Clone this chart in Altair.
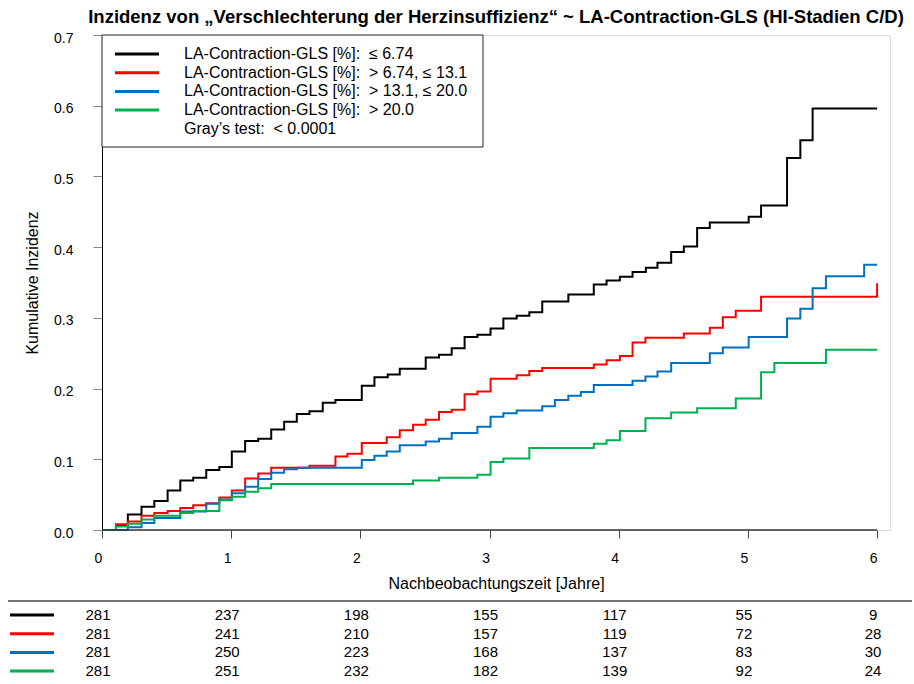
import altair as alt
import pandas as pd

FONT = "Liberation Sans"

title_text = "Inzidenz von \u201eVerschlechterung der Herzinsuffizienz\u201c ~ LA-Contraction-GLS (HI-Stadien C/D)"
group_labels = [
    "LA-Contraction-GLS [%]:\u00a0 \u2264 6.74",
    "LA-Contraction-GLS [%]:\u00a0 > 6.74, \u2264 13.1",
    "LA-Contraction-GLS [%]:\u00a0 > 13.1, \u2264 20.0",
    "LA-Contraction-GLS [%]:\u00a0 > 20.0",
]
test_label = "Gray\u2019s test:\u00a0 < 0.0001"
colors = ["#000000", "#FF0000", "#0070C0", "#00B050"]

black_t = [0, 0.108, 0.2, 0.306, 0.405, 0.508, 0.606, 0.706, 0.807, 0.908,
           1.005, 1.108, 1.209, 1.31, 1.41, 1.508, 1.606, 1.709, 1.807,
           2.011, 2.109, 2.212, 2.305, 2.506, 2.609, 2.707, 2.807, 2.906,
           3.008, 3.107, 3.21, 3.308, 3.408, 3.61, 3.807, 3.906,
           4.009, 4.107, 4.21, 4.30, 4.406, 4.504, 4.607, 4.705,
           5.006, 5.102, 5.303, 5.406, 5.501, 6.0]
black_v = [0, 0.006, 0.022, 0.033, 0.041, 0.056, 0.070, 0.074, 0.085, 0.089,
           0.111, 0.126, 0.129, 0.142, 0.153, 0.164, 0.168, 0.180, 0.184,
           0.204, 0.216, 0.220, 0.228, 0.244, 0.248, 0.257, 0.273, 0.276,
           0.285, 0.299, 0.303, 0.308, 0.323, 0.333, 0.347, 0.353,
           0.358, 0.365, 0.371, 0.378, 0.393, 0.401, 0.427, 0.435,
           0.443, 0.459, 0.526, 0.551, 0.596, 0.596]

red_t = [0, 0.108, 0.2, 0.306, 0.405, 0.508, 0.606, 0.706, 0.807, 0.908,
         1.005, 1.108, 1.209, 1.31, 1.606, 1.807, 1.90,
         2.011, 2.204, 2.305, 2.408, 2.506, 2.609, 2.707, 2.807, 2.906,
         3.008, 3.21, 3.308, 3.408, 3.807, 3.906,
         4.009, 4.107, 4.207, 4.504, 4.705, 4.806, 4.906,
         5.102, 6.0]
red_v = [0, 0.008, 0.012, 0.020, 0.024, 0.027, 0.031, 0.035, 0.038, 0.046,
         0.056, 0.073, 0.080, 0.088, 0.091, 0.104, 0.108,
         0.123, 0.131, 0.141, 0.149, 0.156, 0.167, 0.170, 0.192, 0.196,
         0.214, 0.219, 0.225, 0.229, 0.234, 0.240,
         0.246, 0.265, 0.272, 0.278, 0.286, 0.301, 0.310,
         0.330, 0.349]

blue_t = [0, 0.2, 0.306, 0.405, 0.606, 0.807, 0.908,
          1.005, 1.108, 1.209, 1.31, 1.41, 1.508,
          2.011, 2.109, 2.204, 2.305, 2.506, 2.609, 2.707, 2.906,
          3.008, 3.107, 3.21, 3.408, 3.506, 3.61, 3.707, 3.807,
          4.107, 4.207, 4.30, 4.406, 4.705, 4.806,
          5.006, 5.303, 5.406, 5.501, 5.604, 5.90, 6.0]
blue_v = [0, 0.004, 0.010, 0.017, 0.026, 0.037, 0.043,
          0.052, 0.061, 0.072, 0.081, 0.086, 0.088,
          0.099, 0.105, 0.111, 0.120, 0.125, 0.129, 0.137, 0.146,
          0.160, 0.165, 0.169, 0.175, 0.184, 0.190, 0.195, 0.205,
          0.211, 0.217, 0.224, 0.236, 0.250, 0.258,
          0.273, 0.299, 0.313, 0.342, 0.359, 0.375, 0.375]

green_t = [0, 0.108, 0.2, 0.306, 0.405, 0.606, 0.706, 0.908,
           1.005, 1.108, 1.209, 1.31,
           2.408, 2.609, 2.906,
           3.008, 3.107, 3.308, 3.807, 3.906,
           4.009, 4.207, 4.406, 4.607, 4.906,
           5.102, 5.205, 5.604, 6.0]
green_v = [0, 0.005, 0.009, 0.015, 0.020, 0.024, 0.027, 0.042,
           0.047, 0.054, 0.059, 0.065,
           0.070, 0.074, 0.078,
           0.096, 0.101, 0.116, 0.122, 0.127,
           0.140, 0.158, 0.166, 0.172, 0.186,
           0.223, 0.236, 0.255, 0.255]

risk_years = [0, 1, 2, 3, 4, 5, 6]
risk_black = [281, 237, 198, 155, 117, 55, 9]
risk_red = [281, 241, 210, 157, 119, 72, 28]
risk_blue = [281, 250, 223, 168, 137, 83, 30]
risk_green = [281, 251, 232, 182, 139, 92, 24]

x_ticks = [0, 1, 2, 3, 4, 5, 6]
y_ticks = [0.0, 0.1, 0.2, 0.3, 0.4, 0.5, 0.6, 0.7]

# ---------------- layout -----------------
W, H = 788, 495
PAD_L, PAD_T = 102, 35

x_scale = alt.Scale(domain=[0, 6.1], nice=False, zero=False)
y_scale = alt.Scale(domain=[0, 0.7], nice=False, zero=False)

x_axis = alt.Axis(values=x_ticks, format="d", title="Nachbeobachtungszeit [Jahre]",
                  labelFont=FONT, titleFont=FONT, labelFontSize=14, titleFontSize=16,
                  titleFontWeight="normal", labelColor="black", titleColor="black",
                  tickColor="#444", tickSize=8, tickWidth=1, domain=False, grid=False,
                  labelPadding=13, labelOffset=-4, labelFlush=False,
                  titleX=W / 2, titleY=53, titleBaseline="middle", titleAlign="center")
y_axis = alt.Axis(values=y_ticks, format=".1f", title="Kumulative Inzidenz",
                  labelFont=FONT, titleFont=FONT, labelFontSize=14, titleFontSize=16,
                  titleFontWeight="normal", labelColor="black", titleColor="black",
                  tickColor="#888", tickSize=9, tickWidth=1, domainColor="black",
                  domainWidth=1, grid=False, labelPadding=20, labelOffset=3,
                  labelFlush=False, titleX=-70, titleY=H / 2, titleAngle=-90,
                  titleBaseline="middle", titleAlign="center")

X = lambda f: alt.X(f, scale=x_scale, axis=x_axis)
Y = lambda f: alt.Y(f, scale=y_scale, axis=y_axis)

one = pd.DataFrame({"k": [0]})
layers = []

# legend box
layers.append(alt.Chart(one).mark_rect(fill="white", stroke="#222", strokeWidth=1).encode(
    x=alt.value(0), x2=alt.value(381), y=alt.value(0), y2=alt.value(112)))

series = [(black_t, black_v), (red_t, red_v), (blue_t, blue_v), (green_t, green_v)]
for (ts, vs), col, lab in zip(series, colors, group_labels):
    df = pd.DataFrame({"time": ts, "cif": vs, "group": lab})
    layers.append(alt.Chart(df).mark_line(interpolate="step-after", strokeWidth=2,
                                          color=col).encode(x=X("time:Q"), y=Y("cif:Q")))

# bottom axis line (0..6)
layers.append(alt.Chart(pd.DataFrame({"a": [0], "b": [6]})).mark_rule(
    color="#333", strokeWidth=1.5).encode(x=X("a:Q"), x2="b:Q", y=alt.value(H)))

# legend entries
leg_y0, leg_dy = 19, 18.7
for i, (col, lab) in enumerate(zip(colors, group_labels)):
    yy = leg_y0 + i * leg_dy
    layers.append(alt.Chart(one).mark_rule(color=col, strokeWidth=3).encode(
        x=alt.value(13), x2=alt.value(57), y=alt.value(yy)))
    layers.append(alt.Chart(pd.DataFrame({"label": [lab]})).mark_text(
        font=FONT, fontSize=16, align="left", baseline="middle", color="black").encode(
        x=alt.value(82), y=alt.value(yy), text="label:N"))
layers.append(alt.Chart(pd.DataFrame({"label": [test_label]})).mark_text(
    font=FONT, fontSize=16, align="left", baseline="middle", color="black").encode(
    x=alt.value(82), y=alt.value(leg_y0 + 4 * leg_dy), text="label:N"))

# separator above risk table
layers.append(alt.Chart(one).mark_rule(color="#777", strokeWidth=2).encode(
    x=alt.value(8 - PAD_L), x2=alt.value(912 - PAD_L), y=alt.value(601 - PAD_T)))

# risk table
risk_rows = [risk_black, risk_red, risk_blue, risk_green]
row_y0, row_dy = 615 - PAD_T, 18.7
for i, (col, nums) in enumerate(zip(colors, risk_rows)):
    yy = row_y0 + i * row_dy
    layers.append(alt.Chart(one).mark_rule(color=col, strokeWidth=3).encode(
        x=alt.value(10 - PAD_L), x2=alt.value(54 - PAD_L), y=alt.value(yy)))
    df = pd.DataFrame({"year": risk_years, "n": nums})
    layers.append(alt.Chart(df).mark_text(font=FONT, fontSize=15, align="center",
                                          baseline="middle", dx=-4, color="black").encode(
        x=X("year:Q"), y=alt.value(yy), text=alt.Text("n:Q", format="d")))

chart = alt.layer(*layers).properties(
    width=W, height=H,
    title=alt.TitleParams(title_text, font=FONT, fontSize=18.5, fontWeight="bold",
                          anchor="middle", offset=5, color="black"),
    padding={"left": PAD_L, "top": PAD_T, "right": 914 - PAD_L - W, "bottom": 684 - PAD_T - H},
    autosize=alt.AutoSizeParams(type="none"),
).configure_view(stroke="#808080", strokeWidth=1).configure(background="white")

chart.save("out.html", embed_options={"renderer": "svg", "actions": False})
